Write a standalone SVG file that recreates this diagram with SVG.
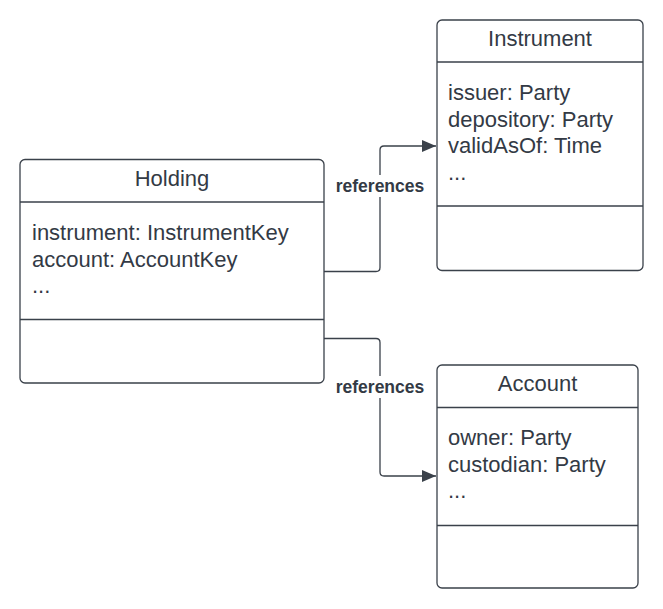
<svg xmlns="http://www.w3.org/2000/svg" width="663" height="609" viewBox="0 0 663 609">
<style>
.box{fill:#fff;stroke:#3a414a;stroke-width:1.3}
.div{stroke:#3a414a;stroke-width:1.3}
.t{font-family:"Liberation Sans",Arial,sans-serif;font-size:22px;fill:#333a45}
.c{text-anchor:middle}
.edge{fill:none;stroke:#3a414a;stroke-width:1.3}
.lbl{font-family:"Liberation Sans",Arial,sans-serif;font-size:17.5px;font-weight:bold;fill:#333a45;text-anchor:middle}
</style>
<defs>
<marker id="arr" viewBox="0 0 14 12" refX="14" refY="6" markerWidth="14" markerHeight="12" markerUnits="userSpaceOnUse" orient="auto">
<path d="M0,0 L14,6 L0,12 Z" fill="#3a414a"/>
</marker>
</defs>
<g id="connectors">
<path class="edge" d="M324,271.5 H376 Q380,271.5 380,267.5 V150 Q380,146 384,146 H436" marker-end="url(#arr)"/>
<rect x="333" y="175" width="94" height="22" fill="#fff"/>
<text class="lbl" x="380" y="192">references</text>
<path class="edge" d="M324,338.5 H376 Q380,338.5 380,342.5 V472 Q380,476 384,476 H436" marker-end="url(#arr)"/>
<rect x="333" y="376" width="94" height="22" fill="#fff"/>
<text class="lbl" x="380" y="393">references</text>
</g>
<g id="holding">
<rect class="box" x="20" y="159.5" width="304" height="223.5" rx="5"/>
<line class="div" x1="20" y1="202" x2="324" y2="202"/>
<line class="div" x1="20" y1="319.5" x2="324" y2="319.5"/>
<text class="t c" x="172" y="186">Holding</text>
<text class="t" x="32" y="240">instrument: InstrumentKey</text>
<text class="t" x="32" y="266.5">account: AccountKey</text>
<text class="t" x="32" y="293">...</text>
</g>
<g id="instrument">
<rect class="box" x="437" y="20" width="206" height="250.5" rx="5"/>
<line class="div" x1="437" y1="62" x2="643" y2="62"/>
<line class="div" x1="437" y1="206" x2="643" y2="206"/>
<text class="t c" x="540" y="46">Instrument</text>
<text class="t" x="448" y="100">issuer: Party</text>
<text class="t" x="448" y="126.5">depository: Party</text>
<text class="t" x="448" y="153">validAsOf: Time</text>
<text class="t" x="448" y="179.5">...</text>
</g>
<g id="account">
<rect class="box" x="437" y="365" width="201" height="223" rx="5"/>
<line class="div" x1="437" y1="407.5" x2="638" y2="407.5"/>
<line class="div" x1="437" y1="525.5" x2="638" y2="525.5"/>
<text class="t c" x="537.5" y="391">Account</text>
<text class="t" x="448" y="445">owner: Party</text>
<text class="t" x="448" y="471.5">custodian: Party</text>
<text class="t" x="448" y="498">...</text>
</g>
</svg>
